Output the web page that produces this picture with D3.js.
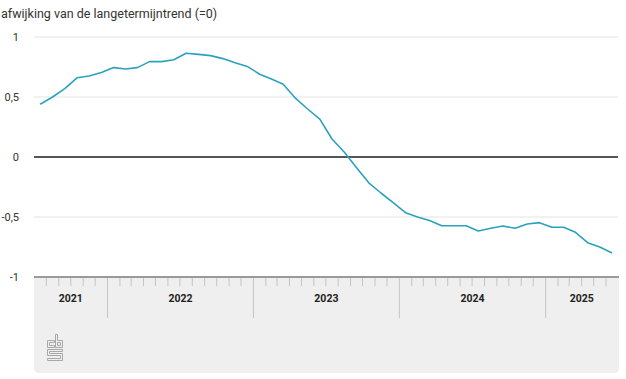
<!DOCTYPE html>
<html>
<head>
<meta charset="utf-8">
<script src="https://cdn.jsdelivr.net/npm/d3@7"></script>
<style>
  html, body { margin: 0; padding: 0; background: #fff; }
  svg { display: block; font-family: Roboto, "Noto Sans", sans-serif; }
</style>
</head>
<body>
<svg id="chart" width="626" height="379"></svg>
<script>
// ---- data ----
const title = "afwijking van de langetermijntrend (=0)";
const startMonth = "2021-07";
const values = [
  0.44, 0.50, 0.57, 0.66, 0.675, 0.705,
  0.745, 0.733, 0.745, 0.795, 0.795, 0.81, 0.864, 0.855, 0.845, 0.82, 0.785, 0.755,
  0.69, 0.65, 0.606, 0.49, 0.40, 0.315, 0.15, 0.04, -0.09, -0.215, -0.30, -0.38,
  -0.464, -0.50, -0.53, -0.573, -0.573, -0.573, -0.617, -0.594, -0.575, -0.594, -0.558, -0.547,
  -0.586, -0.586, -0.628, -0.714, -0.75, -0.80
];
const yTicks = [1, 0.5, 0, -0.5, -1];
const yTickLabels = ["1", "0,5", "0", "-0,5", "-1"];
const years = ["2021", "2022", "2023", "2024", "2025"];

(function () {
// ---- derived ----
const parseMonth = d3.timeParse("%Y-%m");
const t0 = parseMonth(startMonth);
const dates = values.map((v, i) => d3.timeMonth.offset(t0, i));
const tEnd = d3.timeMonth.offset(t0, values.length);
const points = values.map((v, i) => ({
  date: new Date((dates[i].getTime() + d3.timeMonth.offset(dates[i], 1).getTime()) / 2),
  value: v
}));

const svg = d3.select("#chart");
const mLeft = 34, mRight = 618, mTop = 37, mBottom = 277;

const x = d3.scaleTime().domain([t0, tEnd]).range([mLeft, mRight]);
const y = d3.scaleLinear().domain([-1, 1]).range([mBottom, mTop]);

// title
svg.append("text")
  .attr("x", 1).attr("y", 18)
  .attr("fill", "#333")
  .attr("font-size", 12.5)
  .text(title);

// bottom band
const bandBottom = 373, r = 5;
svg.append("path")
  .attr("d", `M${mLeft},${mBottom} H${mRight + 1} V${bandBottom - r} Q${mRight + 1},${bandBottom} ${mRight + 1 - r},${bandBottom} H${mLeft + r} Q${mLeft},${bandBottom} ${mLeft},${bandBottom - r} Z`)
  .attr("fill", "#efefef");

// gridlines
svg.append("g").selectAll("line")
  .data(yTicks.filter(d => d !== 0 && d !== -1))
  .join("line")
  .attr("x1", mLeft).attr("x2", mRight)
  .attr("y1", d => y(d)).attr("y2", d => y(d))
  .attr("stroke", "#e3e3e3").attr("stroke-width", 1.2);

// y labels
svg.append("g").selectAll("text")
  .data(yTicks)
  .join("text")
  .attr("x", 19).attr("y", d => y(d))
  .attr("dy", "0.35em")
  .attr("text-anchor", "end")
  .attr("fill", "#333")
  .attr("font-size", 11)
  .text((d, i) => yTickLabels[i]);

// month ticks
const monthTicks = d3.timeMonth.range(d3.timeMonth.offset(t0, 1), tEnd);
svg.append("g").selectAll("line")
  .data(monthTicks.filter(d => d.getMonth() !== 0))
  .join("line")
  .attr("x1", d => x(d)).attr("x2", d => x(d))
  .attr("y1", mBottom).attr("y2", mBottom + 9)
  .attr("stroke", "#c4c4c4").attr("stroke-width", 1);

// year separators
const yearStarts = d3.timeYear.range(d3.timeYear.offset(d3.timeYear.floor(t0), 1), tEnd);
svg.append("g").selectAll("line")
  .data(yearStarts)
  .join("line")
  .attr("x1", d => x(d)).attr("x2", d => x(d))
  .attr("y1", mBottom).attr("y2", 318)
  .attr("stroke", "#c4c4c4").attr("stroke-width", 1);

// year labels
svg.append("g").selectAll("text")
  .data(years)
  .join("text")
  .attr("x", d => {
    const a = d3.max([t0, new Date(+d, 0, 1)]);
    const b = d3.min([tEnd, new Date(+d + 1, 0, 1)]);
    return (x(a) + x(b)) / 2;
  })
  .attr("y", 298)
  .attr("dy", "0.35em")
  .attr("text-anchor", "middle")
  .attr("fill", "#222")
  .attr("font-size", 10.5)
  .attr("font-weight", "bold")
  .text(d => d);

// axis top line
svg.append("line")
  .attr("x1", mLeft).attr("x2", mRight + 1)
  .attr("y1", mBottom).attr("y2", mBottom)
  .attr("stroke", "#9a9a9a").attr("stroke-width", 1.8);

// zero line
svg.append("line")
  .attr("x1", mLeft).attr("x2", mRight)
  .attr("y1", y(0)).attr("y2", y(0))
  .attr("stroke", "#555").attr("stroke-width", 2);

// data line
svg.append("path")
  .datum(points)
  .attr("fill", "none")
  .attr("stroke", "#2ba2bd")
  .attr("stroke-width", 1.6)
  .attr("stroke-linejoin", "round")
  .attr("d", d3.line().x(d => x(d.date)).y(d => y(d.value)));

// cbs logo (decorative)
const logo = svg.append("g")
  .attr("transform", "translate(47,334)")
  .attr("fill", "none").attr("stroke", "#a8a8a8").attr("stroke-width", 1);
logo.append("path").attr("d", "M0.5,6.5 H7.5 V8.5 H2.5 V11.5 H7.5 V13.5 H0.5 Z");
logo.append("path").attr("d", "M8.5,0.5 H10.5 V6.5 H15.5 V13.5 H8.5 Z M10.5,8.5 H13.5 V11.5 H10.5 Z");
logo.append("path").attr("d", "M0.5,15.5 H15.5 V17.5 H2.5 V19.5 H15.5 V26.5 H0.5 V24.5 H13.5 V21.5 H0.5 Z");
})();
</script>
</body>
</html>
